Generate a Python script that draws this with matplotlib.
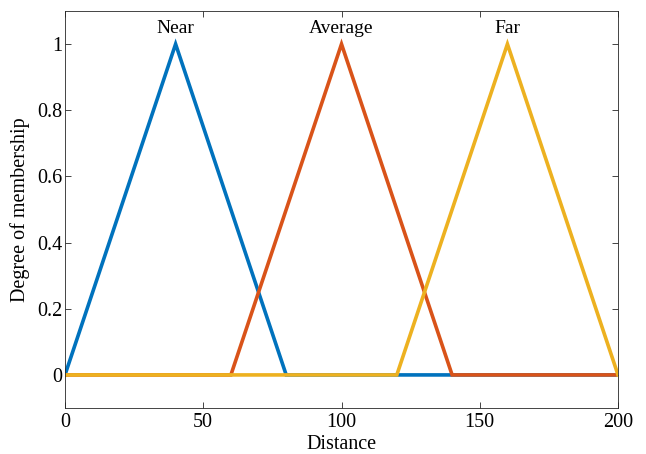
import matplotlib.pyplot as plt
import numpy as np

plt.rcParams['font.family'] = ['Liberation Serif', 'DejaVu Serif']
plt.rcParams['font.size'] = 12

# membership function breakpoints
x_near = [0, 40, 80, 200]
y_near = [0, 1, 0, 0]
x_avg = [0, 60, 100, 140, 200]
y_avg = [0, 0, 1, 0, 0]
x_far = [0, 120, 160, 200]
y_far = [0, 0, 1, 0]

labels = ['Near', 'Average', 'Far']
peaks = [40, 100, 160]
colors = ['#0072BD', '#D95319', '#EDB120']

fig = plt.figure(figsize=(6.46, 4.54), dpi=100)
ax = fig.add_axes([0.1006, 0.1013, 0.8561, 0.8745])

for xs, ys, c in zip([x_near, x_avg, x_far], [y_near, y_avg, y_far], colors):
    ax.plot(xs, ys, color=c, lw=2.6, solid_joinstyle='miter')

for lab, p in zip(labels, peaks):
    ax.text(p, 1.022, lab, ha='center', va='bottom', fontsize=14)

ax.set_xlim(0, 200)
ax.set_ylim(-0.1, 1.1)
ax.set_xticks([0, 50, 100, 150, 200])
ax.set_yticks([0, 0.2, 0.4, 0.6, 0.8, 1])
ax.set_yticklabels(['0', '0.2', '0.4', '0.6', '0.8', '1'])
ax.tick_params(direction='in', top=True, right=True, length=4.5, width=0.6,
               color='#262626', labelsize=14.5)
ax.tick_params(axis='x', pad=3.5)
ax.tick_params(axis='y', pad=2)
for s in ax.spines.values():
    s.set_color('#262626')
    s.set_linewidth(0.6)

ax.set_xlabel('Distance', fontsize=14.5, labelpad=2.5)
ax.set_ylabel('Degree of membership', fontsize=14.5, labelpad=5)

fig.savefig('out.png', dpi=100)
